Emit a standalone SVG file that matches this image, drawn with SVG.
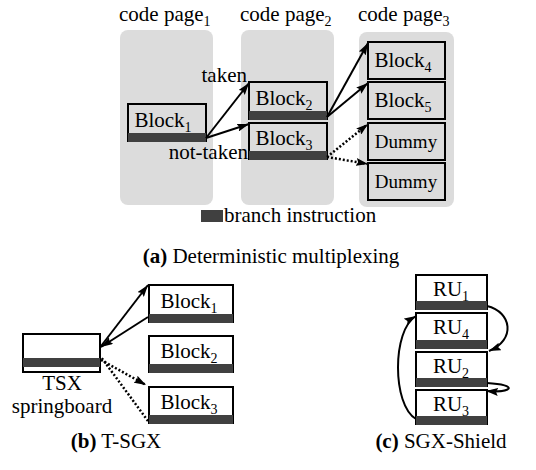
<svg xmlns="http://www.w3.org/2000/svg" width="536" height="470" viewBox="0 0 536 470" font-family="'Liberation Serif', 'Times New Roman', serif">
<style>
text{font-family:'Liberation Serif','Times New Roman',serif;fill:#000}
.t{font-size:21px}
.s{font-size:14px}
.page{fill:#dcdcdc}
.blk{fill:#dcdcdc;stroke:#000;stroke-width:2}
.wblk{fill:#fff;stroke:#000;stroke-width:2}
.bar{fill:#404040}
.ln{fill:none;stroke:#000;stroke-width:2}
.dot{fill:none;stroke:#000;stroke-width:2.5;stroke-dasharray:2 2}
</style>
<defs>
<marker id="ah" viewBox="0 0 12 8" refX="12" refY="4" markerWidth="12" markerHeight="8" markerUnits="userSpaceOnUse" orient="auto"><path d="M0,0 L12,4 L0,8 L2,4 z" fill="#000"/></marker>
</defs>

<!-- (a) pages -->
<g id="page1"><rect class="page" x="120" y="30" width="93" height="175" rx="8"/><text class="t" x="119" y="21">code page<tspan class="s" dy="5">1</tspan></text></g>
<g id="page2"><rect class="page" x="241" y="30" width="93" height="175" rx="8"/><text class="t" x="240" y="21">code page<tspan class="s" dy="5">2</tspan></text></g>
<g id="page3"><rect class="page" x="359" y="32" width="95" height="175" rx="8"/><text class="t" x="358" y="21">code page<tspan class="s" dy="5">3</tspan></text></g>

<g id="a-block1"><rect class="blk" x="128" y="104" width="78" height="37"/><rect class="bar" x="128" y="133" width="78" height="9"/><text class="t" x="163" y="127" text-anchor="middle">Block<tspan class="s" dy="5">1</tspan></text></g>
<g id="a-block2"><rect class="blk" x="249" y="82" width="78" height="37"/><rect class="bar" x="249" y="111" width="78" height="9"/><text class="t" x="284" y="105" text-anchor="middle">Block<tspan class="s" dy="5">2</tspan></text></g>
<g id="a-block3"><rect class="blk" x="249" y="123" width="78" height="36"/><rect class="bar" x="249" y="151" width="78" height="9"/><text class="t" x="284" y="145" text-anchor="middle">Block<tspan class="s" dy="5">3</tspan></text></g>
<g id="a-block4"><rect class="blk" x="368" y="42" width="77" height="37"/><text class="t" x="403" y="67" text-anchor="middle">Block<tspan class="s" dy="5">4</tspan></text></g>
<g id="a-block5"><rect class="blk" x="368" y="82" width="77" height="37"/><text class="t" x="403" y="107" text-anchor="middle">Block<tspan class="s" dy="5">5</tspan></text></g>
<g id="a-dummy1"><rect class="blk" x="368" y="123" width="77" height="37"/><text x="406" y="148" font-size="19" text-anchor="middle">Dummy</text></g>
<g id="a-dummy2"><rect class="blk" x="368" y="163" width="77" height="37"/><text x="406" y="188" font-size="19" text-anchor="middle">Dummy</text></g>

<g id="labels-a">
<text class="t" x="247" y="82" text-anchor="end">taken</text>
<text class="t" x="248" y="159" text-anchor="end">not-taken</text>
<rect class="bar" x="201" y="210" width="22" height="12"/>
<text class="t" x="224" y="222">branch instruction</text>
<text class="t" x="271" y="263" text-anchor="middle"><tspan font-weight="bold">(a)</tspan> Deterministic multiplexing</text>
</g>

<g id="connectors">
<line class="ln" x1="206" y1="138" x2="249" y2="83" marker-end="url(#ah)"/>
<line class="ln" x1="206" y1="138" x2="249" y2="124" marker-end="url(#ah)"/>
<line class="ln" x1="327" y1="117" x2="368" y2="43" marker-end="url(#ah)"/>
<line class="ln" x1="327" y1="117" x2="368" y2="83" marker-end="url(#ah)"/>
<line class="dot" x1="327" y1="157" x2="368" y2="124" marker-end="url(#ah)"/>
<line class="dot" x1="327" y1="157" x2="368" y2="164" marker-end="url(#ah)"/>

<line class="ln" x1="98" y1="350" x2="148" y2="285" marker-start="url(#ah)" marker-end="url(#ah)"/>
<line class="ln" x1="148" y1="317" x2="101" y2="347" marker-end="url(#ah)"/>
<line class="dot" x1="101" y1="360" x2="146" y2="385" marker-end="url(#ah)"/>
<line class="dot" x1="148" y1="421" x2="101" y2="357"/>

<path class="ln" d="M487,306 C512,312 516,340 489,351" marker-end="url(#ah)"/>
<path class="ln" d="M487,383 C520,385 512,393 486,391" marker-end="url(#ah)"/>
<path class="ln" d="M416,419 C392,405 392,330 416,316" marker-end="url(#ah)"/>
</g>

<!-- (b) -->
<g id="tsx"><rect class="wblk" x="23" y="334" width="77" height="38"/><rect class="bar" x="23" y="358" width="77" height="9"/><text class="t" x="62" y="390" text-anchor="middle">TSX</text><text class="t" x="62" y="413" text-anchor="middle">springboard</text></g>
<g id="b-block1"><rect class="wblk" x="149" y="285" width="84" height="37"/><rect class="bar" x="149" y="314" width="84" height="9"/><text class="t" x="189" y="308" text-anchor="middle">Block<tspan class="s" dy="5">1</tspan></text></g>
<g id="b-block2"><rect class="wblk" x="149" y="336" width="84" height="36"/><rect class="bar" x="149" y="364" width="84" height="9"/><text class="t" x="189" y="358" text-anchor="middle">Block<tspan class="s" dy="5">2</tspan></text></g>
<g id="b-block3"><rect class="wblk" x="149" y="387" width="84" height="36"/><rect class="bar" x="149" y="415" width="84" height="9"/><text class="t" x="189" y="409" text-anchor="middle">Block<tspan class="s" dy="5">3</tspan></text></g>
<text class="t" x="116" y="448" text-anchor="middle"><tspan font-weight="bold">(b)</tspan> T-SGX</text>

<!-- (c) -->
<g id="ru1"><rect class="wblk" x="416" y="275" width="71" height="34"/><rect class="bar" x="416" y="301" width="71" height="9"/><text class="t" x="451" y="296" text-anchor="middle">RU<tspan class="s" dy="5">1</tspan></text></g>
<g id="ru4"><rect class="wblk" x="416" y="313" width="71" height="35"/><rect class="bar" x="416" y="340" width="71" height="9"/><text class="t" x="451" y="334" text-anchor="middle">RU<tspan class="s" dy="5">4</tspan></text></g>
<g id="ru2"><rect class="wblk" x="416" y="352" width="71" height="34"/><rect class="bar" x="416" y="378" width="71" height="9"/><text class="t" x="451" y="373" text-anchor="middle">RU<tspan class="s" dy="5">2</tspan></text></g>
<g id="ru3"><rect class="wblk" x="416" y="390" width="71" height="34"/><rect class="bar" x="416" y="416" width="71" height="9"/><text class="t" x="451" y="411" text-anchor="middle">RU<tspan class="s" dy="5">3</tspan></text></g>
<text class="t" x="441" y="448" text-anchor="middle"><tspan font-weight="bold">(c)</tspan> SGX-Shield</text>
</svg>
